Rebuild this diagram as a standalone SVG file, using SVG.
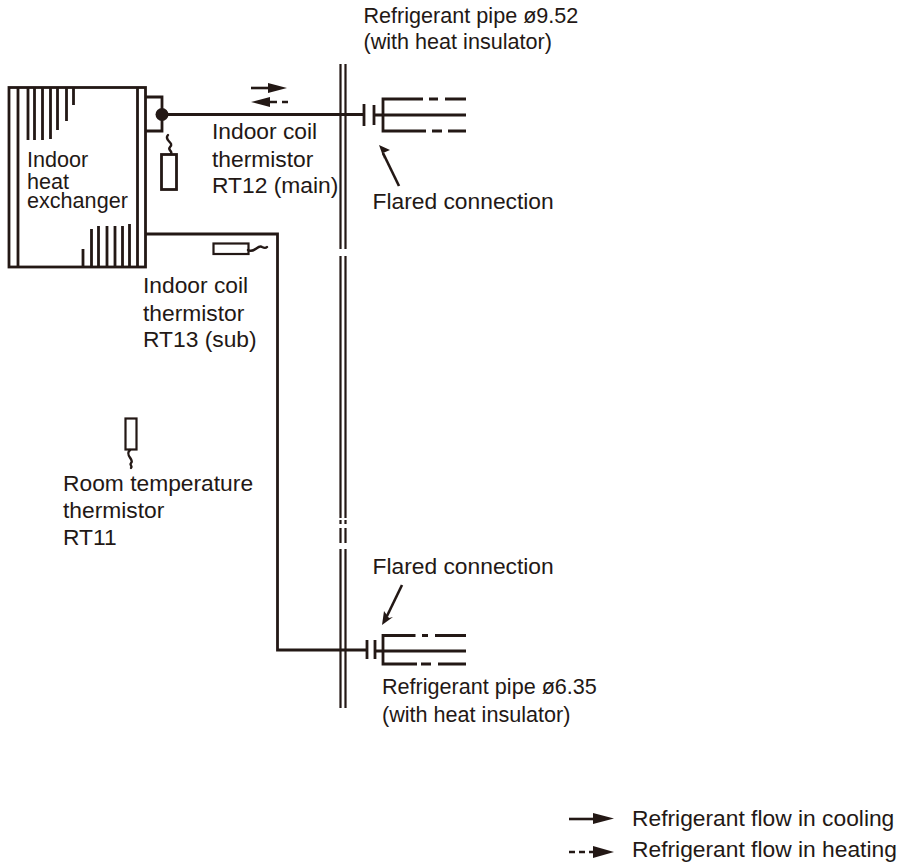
<svg xmlns="http://www.w3.org/2000/svg" width="903" height="867" viewBox="0 0 903 867">
<style>
text{font-family:"Liberation Sans",Arial,sans-serif;font-size:22.8px;fill:#231815}
text.s{font-size:21.6px}
.l{fill:none;stroke:#231815;stroke-width:2.6}
.t{fill:none;stroke:#231815;stroke-width:2.8}
.m{fill:none;stroke:#231815;stroke-width:2.2}
.q{fill:none;stroke:#231815;stroke-width:2.4;stroke-linecap:round}
.h{fill:#231815;stroke:none}
</style>
<rect width="903" height="867" fill="#fff"/>
<g id="heat-exchanger">
<rect class="t" x="9" y="87.500" width="136.500" height="179.500"/>
<path class="t" d="M18 87V267M28 87V140M34.500 87V140M42.500 87V140M50.500 87V139M57.500 87V130M66.500 87V121M73.500 87V105M137.500 87V267M83 249V267M91.500 229V267M98.500 226V267M107 226V267M115 226V267M122.500 226V267M129.500 224V267"/>
<text class="s" x="27" y="167">Indoor</text>
<text class="s" x="27" y="189">heat</text>
<text class="s" x="27" y="208">exchanger</text>
</g>
<g id="wall">
<path class="m" d="M340.500 64V249M345.500 64V249M340.500 256V518M345.500 256V518M340.500 520V524M345.500 520V524M340.500 528V543M345.500 528V543M340.500 549V708M345.500 549V708"/>
</g>
<g id="connectors">
<path class="t" d="M146 97H162V131H146"/>
<path class="t" d="M162 114.500H363"/>
<path class="t" d="M146 234H277.500V650H367"/>
<path class="t" d="M374 115H466"/>
<path class="t" d="M375 651H466"/>
<path class="t" d="M364 104V126M374 105V125M367 640V659M375 640V659"/>
<path class="t" d="M466 99H445M438 99H429M423 99H383V131H426M432 131H442M448 131H466"/>
<path class="t" d="M466 635.500H435M428 635.500H422M415.500 635.500H383V664H417M421 664H431M438 664H466"/>
<path class="l" d="M251 88H270"/>
<path class="l" d="M270 102H277M282 102H288"/>
<path class="l" d="M399 186L383 153"/>
<path class="l" d="M402 585L387 616"/>
<path class="l" d="M569 819H594"/>
<path class="l" d="M569 852H575M579 852H585M589 852H594"/>
<polygon class="h" points="268,83 287,88 268,93"/>
<polygon class="h" points="251,102 270,97 270,107"/>
<polygon class="h" points="379,145 390,150 383,153 384,159"/>
<polygon class="h" points="382,625 384,611 389,618 393,617"/>
<polygon class="h" points="593,813 614,818.500 593,824"/>
<polygon class="h" points="593,846 614,852 593,858"/>
</g>
<g id="joint"><circle class="h" cx="162" cy="114.500" r="6.500"/></g>
<g id="thermistor-rt12">
<rect class="t" x="161.500" y="154.500" width="15" height="35"/>
<path class="q" d="M168 135C163 140 175 143 170 147C167 150 173 151 171 154"/>
<text x="212" y="139">Indoor coil</text>
<text x="212" y="167">thermistor</text>
<text x="212" y="193">RT12 (main)</text>
</g>
<g id="thermistor-rt13">
<rect class="m" x="213.500" y="243.500" width="35" height="10.500"/>
<path class="q" d="M248 250C254 254 258 244 262 247C264 248 266 248 267 247"/>
<text x="143" y="293">Indoor coil</text>
<text x="143" y="321">thermistor</text>
<text x="143" y="347">RT13 (sub)</text>
</g>
<g id="thermistor-rt11">
<rect class="m" x="125.500" y="418.500" width="11" height="31"/>
<path class="q" d="M130 450C124 455 135 460 131 463C129 465 133 466 131 468"/>
<text x="63" y="491">Room temperature</text>
<text x="63" y="518">thermistor</text>
<text x="63" y="545">RT11</text>
</g>
<g id="labels">
<text class="s" x="363.500" y="22.500">Refrigerant pipe ø9.52</text>
<text class="s" x="363.500" y="49">(with heat insulator)</text>
<text x="372.500" y="209">Flared connection</text>
<text x="372.500" y="574">Flared connection</text>
<text class="s" x="382" y="694">Refrigerant pipe ø6.35</text>
<text class="s" x="382" y="722">(with heat insulator)</text>
</g>
<g id="legend">
<text x="632" y="826">Refrigerant flow in cooling</text>
<text x="632" y="857">Refrigerant flow in heating</text>
</g>
</svg>
